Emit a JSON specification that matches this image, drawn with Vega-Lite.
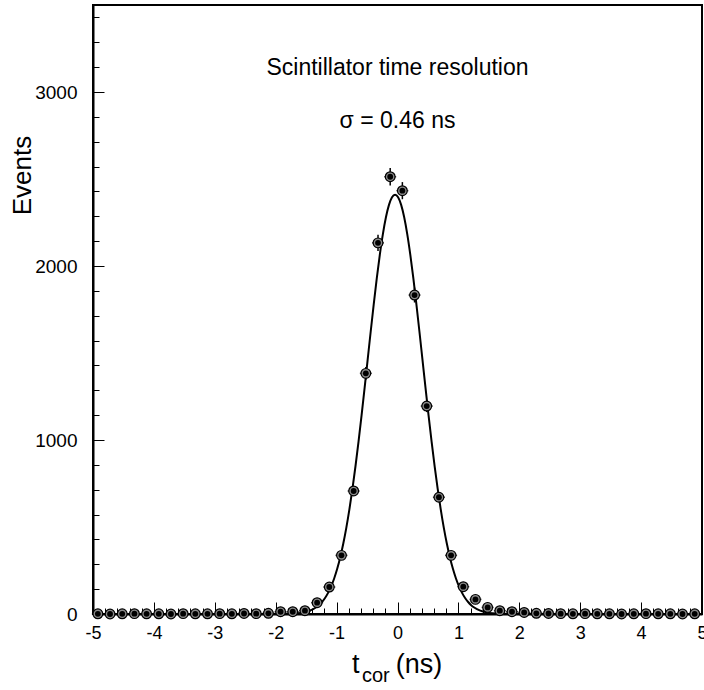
{
  "$schema": "https://vega.github.io/schema/vega-lite/v6.json",
  "width": 609,
  "height": 609,
  "autosize": {"type": "none"},
  "padding": {"left": 93, "top": 5, "right": 2, "bottom": 76},
  "background": "white",
  "config": {
    "view": {"stroke": "#000", "strokeWidth": 2},
    "font": "Liberation Sans",
    "axis": {"grid": false, "labelFont": "Liberation Sans", "titleFont": "Liberation Sans", "labelColor": "#000", "titleColor": "#000", "tickColor": "#000", "domainColor": "#000"}
  },
  "datasets": {
    "hist": [
      {"t": -4.92, "n": 1, "e": 1}, {"t": -4.72, "n": 0, "e": 0}, {"t": -4.52, "n": 1, "e": 1}, {"t": -4.32, "n": 2, "e": 1.4}, {"t": -4.12, "n": 1, "e": 1},
      {"t": -3.92, "n": 1, "e": 1}, {"t": -3.72, "n": 0, "e": 0}, {"t": -3.52, "n": 2, "e": 1.4}, {"t": -3.32, "n": 1, "e": 1}, {"t": -3.12, "n": 1, "e": 1},
      {"t": -2.92, "n": 2, "e": 1.4}, {"t": -2.72, "n": 1, "e": 1}, {"t": -2.52, "n": 3, "e": 1.7}, {"t": -2.32, "n": 2, "e": 1.4}, {"t": -2.12, "n": 4, "e": 2},
      {"t": -1.92, "n": 13, "e": 3.6}, {"t": -1.72, "n": 13, "e": 3.6}, {"t": -1.52, "n": 19, "e": 4.4}, {"t": -1.32, "n": 65, "e": 8.1}, {"t": -1.12, "n": 155, "e": 12.4},
      {"t": -0.92, "n": 337, "e": 18.4}, {"t": -0.72, "n": 707, "e": 26.6}, {"t": -0.52, "n": 1383, "e": 37.2}, {"t": -0.32, "n": 2133, "e": 46.2}, {"t": -0.12, "n": 2513, "e": 50.1},
      {"t": 0.08, "n": 2433, "e": 49.3}, {"t": 0.28, "n": 1833, "e": 42.8}, {"t": 0.48, "n": 1195, "e": 34.6}, {"t": 0.68, "n": 671, "e": 25.9}, {"t": 0.88, "n": 337, "e": 18.4},
      {"t": 1.08, "n": 157, "e": 12.5}, {"t": 1.28, "n": 84, "e": 9.2}, {"t": 1.48, "n": 38, "e": 6.2}, {"t": 1.68, "n": 19, "e": 4.4}, {"t": 1.88, "n": 13, "e": 3.6},
      {"t": 2.08, "n": 9, "e": 3}, {"t": 2.28, "n": 4, "e": 2}, {"t": 2.48, "n": 3, "e": 1.7}, {"t": 2.68, "n": 2, "e": 1.4}, {"t": 2.88, "n": 1, "e": 1},
      {"t": 3.08, "n": 2, "e": 1.4}, {"t": 3.28, "n": 1, "e": 1}, {"t": 3.48, "n": 1, "e": 1}, {"t": 3.68, "n": 0, "e": 0}, {"t": 3.88, "n": 1, "e": 1},
      {"t": 4.08, "n": 2, "e": 1.4}, {"t": 4.28, "n": 1, "e": 1}, {"t": 4.48, "n": 1, "e": 1}, {"t": 4.68, "n": 0, "e": 0}, {"t": 4.88, "n": 1, "e": 1}
    ],
    "fit": [
      {"t": -5, "n": 0}, {"t": -2.54, "n": 0}, {"t": -2.04, "n": 0.05}, {"t": -1.84, "n": 0.8}, {"t": -1.74, "n": 1.9}, {"t": -1.64, "n": 4.3},
      {"t": -1.54, "n": 9.3}, {"t": -1.44, "n": 19.1}, {"t": -1.34, "n": 37.1}, {"t": -1.29, "n": 50.9}, {"t": -1.24, "n": 68.9},
      {"t": -1.19, "n": 92.0}, {"t": -1.14, "n": 121.5}, {"t": -1.09, "n": 158.3}, {"t": -1.04, "n": 204.0}, {"t": -0.99, "n": 259.6},
      {"t": -0.94, "n": 326.2}, {"t": -0.89, "n": 404.8}, {"t": -0.84, "n": 496.3}, {"t": -0.79, "n": 600.9}, {"t": -0.74, "n": 718.8},
      {"t": -0.69, "n": 849.1}, {"t": -0.64, "n": 990.8}, {"t": -0.59, "n": 1142.0}, {"t": -0.54, "n": 1300.0}, {"t": -0.49, "n": 1461.7},
      {"t": -0.44, "n": 1623.5}, {"t": -0.39, "n": 1780.9}, {"t": -0.34, "n": 1929.8}, {"t": -0.29, "n": 2065.4}, {"t": -0.24, "n": 2183.3},
      {"t": -0.19, "n": 2279.8}, {"t": -0.14, "n": 2351.2}, {"t": -0.09, "n": 2395.2}, {"t": -0.04, "n": 2410}, {"t": 0.01, "n": 2395.2},
      {"t": 0.06, "n": 2351.2}, {"t": 0.11, "n": 2279.8}, {"t": 0.16, "n": 2183.3}, {"t": 0.21, "n": 2065.4}, {"t": 0.26, "n": 1929.8},
      {"t": 0.31, "n": 1780.9}, {"t": 0.36, "n": 1623.5}, {"t": 0.41, "n": 1461.7}, {"t": 0.46, "n": 1300.0}, {"t": 0.51, "n": 1142.0},
      {"t": 0.56, "n": 990.8}, {"t": 0.61, "n": 849.1}, {"t": 0.66, "n": 718.8}, {"t": 0.71, "n": 600.9}, {"t": 0.76, "n": 496.3},
      {"t": 0.81, "n": 404.8}, {"t": 0.86, "n": 326.2}, {"t": 0.91, "n": 259.6}, {"t": 0.96, "n": 204.0}, {"t": 1.01, "n": 158.3},
      {"t": 1.06, "n": 121.5}, {"t": 1.11, "n": 92.0}, {"t": 1.16, "n": 68.9}, {"t": 1.21, "n": 50.9}, {"t": 1.26, "n": 37.1},
      {"t": 1.36, "n": 19.1}, {"t": 1.46, "n": 9.3}, {"t": 1.56, "n": 4.3}, {"t": 1.66, "n": 1.9}, {"t": 1.76, "n": 0.8},
      {"t": 1.96, "n": 0.05}, {"t": 2.46, "n": 0}, {"t": 5, "n": 0}
    ]
  },
  "resolve": {"axis": {"x": "independent", "y": "independent"}},
  "layer": [
    {
      "data": {"name": "fit"},
      "mark": {"type": "line", "color": "#000", "strokeWidth": 2, "interpolate": "monotone"},
      "encoding": {
        "x": {"field": "t", "type": "quantitative", "scale": {"domain": [-5, 5], "nice": false, "zero": false},
          "axis": {"orient": "bottom", "values": [-5, -4, -3, -2, -1, 0, 1, 2, 3, 4, 5], "tickSize": -12, "tickWidth": 1, "domain": true, "domainWidth": 2, "labelFontSize": 18, "labelPadding": 22, "labelBaseline": "top", "labelFlush": false, "labelOverlap": false, "labelExpr": "'' + datum.value", "title": null}},
        "y": {"field": "n", "type": "quantitative", "scale": {"domain": [0, 3500], "nice": false},
          "axis": {"orient": "left", "values": [0, 1000, 2000, 3000], "tickSize": -11, "tickWidth": 1, "domain": true, "domainWidth": 2, "labelFontSize": 19, "labelPadding": 27, "labelFlush": false, "labelOverlap": false, "labelExpr": "'' + datum.value",
            "title": "Events", "titleFontSize": 26, "titleFontWeight": "normal", "titleX": -71, "titleY": 170, "titleAngle": -90, "titleAlign": "center", "titleBaseline": "middle"}}
      }
    },
    {
      "data": {"name": "hist"},
      "mark": {"type": "errorbar", "color": "#000", "thickness": 1.5},
      "encoding": {
        "x": {"field": "t", "type": "quantitative", "axis": null},
        "y": {"field": "n", "type": "quantitative", "axis": null},
        "yError": {"field": "e"}
      }
    },
    {
      "data": {"name": "hist"},
      "mark": {"type": "tick", "orient": "horizontal", "size": 12, "thickness": 1.5, "color": "#000"},
      "encoding": {
        "x": {"field": "t", "type": "quantitative",
          "axis": {"orient": "bottom", "values": [-4.8, -4.6, -4.4, -4.2, -3.8, -3.6, -3.4, -3.2, -2.8, -2.6, -2.4, -2.2, -1.8, -1.6, -1.4, -1.2, -0.8, -0.6, -0.4, -0.2, 0.2, 0.4, 0.6, 0.8, 1.2, 1.4, 1.6, 1.8, 2.2, 2.4, 2.6, 2.8, 3.2, 3.4, 3.6, 3.8, 4.2, 4.4, 4.6, 4.8], "tickSize": -6, "tickWidth": 1, "domain": false, "labels": false, "title": null}},
        "y": {"field": "n", "type": "quantitative",
          "axis": {"orient": "left", "values": [142.857, 285.714, 428.571, 571.429, 714.286, 857.143, 1142.857, 1285.714, 1428.571, 1571.429, 1714.286, 1857.143, 2142.857, 2285.714, 2428.571, 2571.429, 2714.286, 2857.143, 3142.857, 3285.714, 3428.571], "tickSize": -6, "tickWidth": 1, "domain": false, "labels": false, "title": null}}
      }
    },
    {
      "data": {"name": "hist"},
      "mark": {"type": "point", "shape": "circle", "filled": true, "size": 95, "fill": "#8a8a8a", "stroke": "#000", "strokeWidth": 1.2, "opacity": 1},
      "encoding": {
        "x": {"field": "t", "type": "quantitative", "axis": null},
        "y": {"field": "n", "type": "quantitative", "axis": null}
      }
    },
    {
      "data": {"name": "hist"},
      "mark": {"type": "point", "shape": "circle", "filled": true, "size": 34, "color": "#000", "opacity": 1},
      "encoding": {
        "x": {"field": "t", "type": "quantitative", "axis": null},
        "y": {"field": "n", "type": "quantitative", "axis": null}
      }
    },
    {
      "data": {"values": [
        {"t": 0, "n": 3098, "label": "Scintillator time resolution"},
        {"t": 0, "n": 2791, "label": "σ = 0.46 ns"}
      ]},
      "mark": {"type": "text", "fontSize": 23, "align": "center", "baseline": "alphabetic", "color": "#000", "font": "Liberation Sans"},
      "encoding": {
        "x": {"field": "t", "type": "quantitative", "axis": null},
        "y": {"field": "n", "type": "quantitative", "axis": null},
        "text": {"field": "label"}
      }
    },
    {
      "data": {"values": [
        {"t": -0.747, "n": -339, "label": "t"},
        {"t": -0.03, "n": -339, "label": "(ns)"}
      ]},
      "mark": {"type": "text", "fontSize": 27, "align": "left", "baseline": "alphabetic", "color": "#000", "font": "Liberation Sans"},
      "encoding": {
        "x": {"field": "t", "type": "quantitative", "axis": null},
        "y": {"field": "n", "type": "quantitative", "axis": null},
        "text": {"field": "label"}
      }
    },
    {
      "data": {"values": [
        {"t": -0.583, "n": -391, "label": "cor"}
      ]},
      "mark": {"type": "text", "fontSize": 20, "align": "left", "baseline": "alphabetic", "color": "#000", "font": "Liberation Sans"},
      "encoding": {
        "x": {"field": "t", "type": "quantitative", "axis": null},
        "y": {"field": "n", "type": "quantitative", "axis": null},
        "text": {"field": "label"}
      }
    }
  ]
}
